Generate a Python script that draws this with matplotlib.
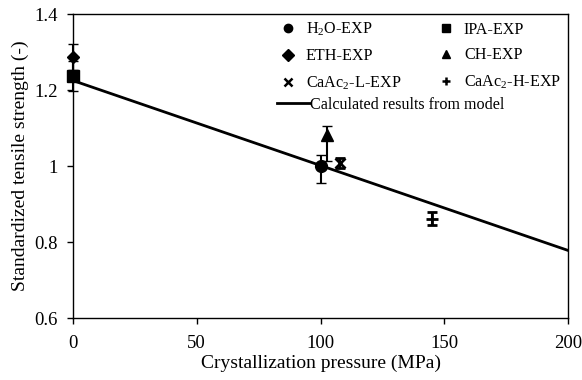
import numpy as np
import matplotlib
matplotlib.use("Agg")
import matplotlib.pyplot as plt
from matplotlib.lines import Line2D

plt.rcParams['font.family'] = ['Liberation Serif', 'DejaVu Serif']
plt.rcParams['mathtext.fontset'] = 'custom'
plt.rcParams['mathtext.rm'] = 'Liberation Serif'

# experimental points: label, marker, x, y, lower err, upper err
labels = ['H$_\\mathrm{2}$O-EXP', 'IPA-EXP', 'ETH-EXP', 'CH-EXP',
          'CaAc$_\\mathrm{2}$-L-EXP', 'CaAc$_\\mathrm{2}$-H-EXP']
markers = ['o', 's', 'D', '^', 'x', '+']
msizes = [8.5, 9, 6, 8, 7, 8]
px = [100, 0, 0, 102.5, 108, 145]
py = [1.00, 1.237, 1.287, 1.082, 1.008, 0.862]
err_lo = [0.045, 0.04, 0.035, 0.068, 0.013, 0.018]
err_hi = [0.03, 0.04, 0.035, 0.023, 0.013, 0.018]

# model line
model_x = [0, 200]
model_y = [1.225, 0.778]

fig = plt.figure(figsize=(5.82, 3.8), dpi=100)
ax = fig.add_axes([0.1254, 0.163, 0.8506, 0.8])

ax.plot(model_x, model_y, color='black', lw=2, zorder=2)

for i in range(len(px)):
    ax.errorbar(px[i], py[i], yerr=[[err_lo[i]], [err_hi[i]]], fmt=markers[i],
                color='black', ms=msizes[i], mew=2 if markers[i] in 'x+' else 1,
                elinewidth=1.5, capsize=3.5, capthick=1.5, zorder=3,
                clip_on=False)

ax.set_xlim(0, 200)
ax.set_ylim(0.6, 1.4)
ax.set_xticks([0, 50, 100, 150, 200])
ax.set_yticks([0.6, 0.8, 1.0, 1.2, 1.4])
ax.set_yticklabels(['0.6', '0.8', '1', '1.2', '1.4'])
ax.tick_params(direction='out', length=4, width=1, labelsize=13.5, colors='black')
ax.tick_params(axis='y', pad=7)
ax.tick_params(axis='x', pad=8)
for s in ax.spines.values():
    s.set_linewidth(1)
ax.set_xlabel('Crystallization pressure (MPa)', fontsize=14, labelpad=2)
ax.set_ylabel('Standardized tensile strength (-)', fontsize=14, labelpad=4)

handles = [Line2D([], [], ls='none', marker=m, color='black', ms=6,
                  mew=1.8 if m in 'x+' else 1) for m in markers]
# column-major order so rows read H2O/IPA, ETH/CH, CaAc2-L/CaAc2-H
order = [0, 2, 4, 1, 3, 5]
leg1 = ax.legend([handles[i] for i in order], [labels[i] for i in order],
                 ncol=2, loc='upper left', bbox_to_anchor=(0.405, 1.0),
                 frameon=False, fontsize=11.6, handlelength=1.0, handletextpad=0.6,
                 columnspacing=2.3, labelspacing=0.62, borderaxespad=0)
ax.add_artist(leg1)
ax.legend([Line2D([], [], color='black', lw=2)], ['Calculated results from model'],
          loc='upper left', bbox_to_anchor=(0.4, 0.75), frameon=False,
          fontsize=11.6, handlelength=2.0, handletextpad=0.05, borderaxespad=0)

fig.savefig('out.png', dpi=100)
